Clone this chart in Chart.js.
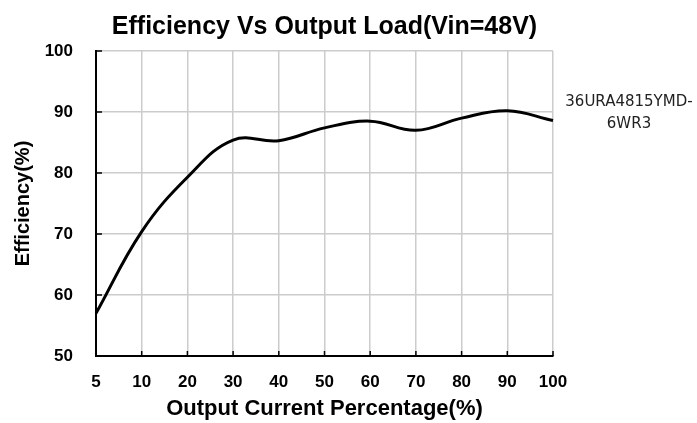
<!DOCTYPE html>
<html>
<head>
<meta charset="utf-8">
<script src="https://cdn.jsdelivr.net/npm/chart.js@4/dist/chart.umd.min.js"></script>
<style>
  html, body { margin: 0; padding: 0; background: #fff; }
  #wrap { width: 697px; height: 423px; }
</style>
</head>
<body>
<div id="wrap"><canvas id="eff"></canvas></div>
<script>
// load steps on the x axis (category axis, evenly spaced)
const loadLabels = ["5", "10", "20", "30", "40", "50", "60", "70", "80", "90", "100"];
// efficiency
const effValues = [57.0, 70.4, 79.3, 85.4, 85.3, 87.4, 88.5, 87.0, 89.0, 90.2, 88.6];
const seriesName = ["36URA4815YMD-", "6WR3"];
const yTicks = [50, 60, 70, 80, 90, 100];
const chartTitle = "Efficiency Vs Output Load(Vin=48V)";

const boldFont = "'Liberation Sans', Arial, sans-serif";

// title centred over the plot, inner tick marks and the side label
const extras = {
  id: "extras",
  afterDatasetsDraw(chart) {
    const { ctx, chartArea, scales } = chart;
    ctx.save();
    ctx.strokeStyle = "#000";
    ctx.lineWidth = 1.5;
    scales.x.ticks.forEach((t, i) => {
      const x = scales.x.getPixelForTick(i);
      ctx.beginPath();
      ctx.moveTo(x, chartArea.bottom);
      ctx.lineTo(x, chartArea.bottom - 5);
      ctx.stroke();
    });
    scales.y.ticks.forEach((t, i) => {
      const y = scales.y.getPixelForTick(i);
      ctx.beginPath();
      ctx.moveTo(chartArea.left, y);
      ctx.lineTo(chartArea.left + 6, y);
      ctx.stroke();
    });
    // title
    ctx.fillStyle = "#000";
    ctx.font = "bold 25px " + boldFont;
    ctx.textAlign = "center";
    ctx.textBaseline = "middle";
    ctx.fillText(chartTitle, (chartArea.left + chartArea.right) / 2, 27);
    // series name on the right
    ctx.fillStyle = "#222";
    ctx.font = "15px 'DejaVu Sans', sans-serif";
    ctx.fillText(seriesName[0], 629, 102);
    ctx.fillText(seriesName[1], 629, 124);
    ctx.restore();
  },
};

const ctx = document.getElementById("eff").getContext("2d");
const effChart = new Chart(ctx, {
  type: "line",
  data: {
    labels: loadLabels,
    datasets: [
      {
        label: seriesName.join(""),
        data: effValues,
        borderColor: "#000",
        borderWidth: 3,
        pointRadius: 0,
        tension: 0.4,
        fill: false,
      },
    ],
  },
  options: {
    responsive: true,
    maintainAspectRatio: false,
    animation: false,
    layout: { padding: { left: 0, right: 144, top: 51, bottom: 0 } },
    plugins: {
      legend: { display: false },
      tooltip: { enabled: false },
      title: { display: false },
    },
    scales: {
      x: {
        offset: false,
        grid: { color: "#cccccc", lineWidth: 1.5, drawTicks: false },
        border: { color: "#000", width: 2 },
        ticks: {
          color: "#000",
          padding: 16,
          maxRotation: 0,
          font: { family: boldFont, size: 17, weight: "bold" },
        },
        title: {
          display: true,
          text: "Output Current Percentage(%)",
          color: "#000",
          font: { family: boldFont, size: 22, weight: "bold" },
          padding: { top: 0, bottom: 1 },
        },
        afterFit(scale) {
          scale.height = 67;
        },
      },
      y: {
        min: 50,
        max: 100,
        afterBuildTicks(scale) {
          scale.ticks = yTicks.map((v) => ({ value: v }));
        },
        grid: { color: "#cccccc", lineWidth: 1.5, drawTicks: false },
        border: { color: "#000", width: 2 },
        ticks: {
          color: "#000",
          padding: 23,
          font: { family: boldFont, size: 17, weight: "bold" },
        },
        title: {
          display: true,
          text: "Efficiency(%)",
          color: "#000",
          font: { family: boldFont, size: 20, weight: "bold" },
          padding: { top: 11, bottom: 0 },
        },
        afterFit(scale) {
          scale.width = 96;
        },
      },
    },
  },
  plugins: [extras],
});
</script>
</body>
</html>
